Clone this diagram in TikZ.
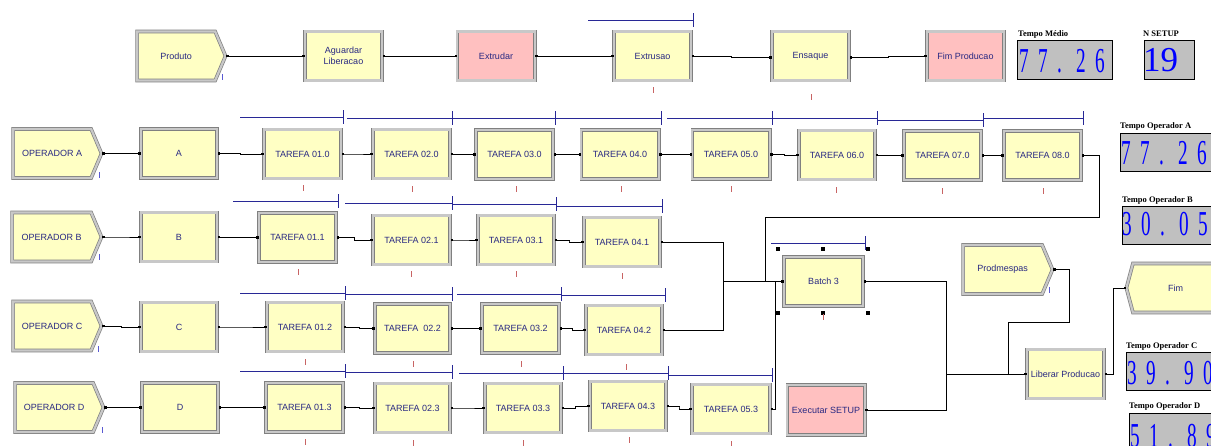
\documentclass[tikz,border=0pt]{standalone}
\usepackage{fontspec}
\setmainfont{Liberation Sans}
\newfontfamily\lserif{Liberation Serif}
\usetikzlibrary{shapes.symbols,arrows.meta,calc}
\definecolor{modyel}{RGB}{255,255,196}
\definecolor{modpink}{RGB}{255,192,192}
\definecolor{modedge}{RGB}{128,128,128}
\definecolor{modband}{RGB}{200,200,200}
\definecolor{modtext}{RGB}{40,40,130}
\definecolor{qblue}{RGB}{40,40,150}
\definecolor{animred}{RGB}{200,100,100}
\definecolor{animblue}{RGB}{90,90,210}
\definecolor{dispgray}{RGB}{192,192,192}
\newcommand{\qline}[3]{\draw[queue] (#1,#3) -- (#2,#3) (#2,#3-7) -- (#2,#3+7);}
\newcommand{\amark}[3][animred]{\draw[#1, line width=1pt] (#2,#3) -- (#2,#3+6);}
\newcommand{\lcdc}[1]{\makebox[19pt][l]{\scalebox{0.55}[1]{#1}}}
\tikzset{
 modbase/.style={draw=modedge, double=modband, double distance=2.2pt, line width=0.7pt,
   inner sep=1pt, font=\fontsize{9}{10.5}\selectfont, text=modtext, align=center},
 mod/.style={modbase, fill=modyel, minimum width=77.4pt, minimum height=49pt},
 pinkmod/.style={mod, fill=modpink},
 create/.style={modbase, fill=modyel, signal, signal to=east, signal pointer angle=134,
   minimum width=88.4pt, minimum height=49pt, anchor=west},
 dispose/.style={modbase, fill=modyel, signal, signal to=west, signal pointer angle=150,
   minimum width=92pt, minimum height=49pt, anchor=west},
 conn/.style={line width=0.8pt, black},
 tips/.style={{Square[length=2.4pt,width=2.4pt]}-{Square[length=2.4pt,width=2.4pt]}},
 tipstart/.style={{Square[length=2.4pt,width=2.4pt]}-},
 jog/.style={to path={-| ($(\tikztostart)!0.5!(\tikztotarget)$) |- (\tikztotarget) \tikztonodes}},
 queue/.style={qblue, line width=0.8pt},
 disp/.style={draw=black, line width=0.8pt, fill=dispgray, inner sep=0pt, anchor=north west},
 displabel/.style={font=\lserif\bfseries\fontsize{8.5}{9}\selectfont, anchor=base west, inner sep=0pt},
 dispval/.style={font=\lserif\fontsize{35}{35}\selectfont, text=blue, anchor=base west, inner sep=0pt},
 handle/.style={fill=black, minimum size=4pt, inner sep=0pt},
}
\begin{document}
\begin{tikzpicture}[x=1pt,y=-1pt]
\useasboundingbox (0,0) rectangle (1211,445);
\clip (0,0) rectangle (1211,445);
\fill[white] (0,0) rectangle (1211,445);

% ---------- top row ----------
\node[create] (prod) at (136.8,56) {Produto};
\node[mod] (agu) at (343.5,56) {Aguardar\\Liberacao};
\node[pinkmod] (extd) at (496,56) {Extrudar};
\node[mod] (extr) at (652.5,56) {Extrusao};
\node[mod] (ens) at (810.5,56) {Ensaque};
\node[pinkmod] (fimp) at (965.5,56) {Fim Producao};

% ---------- row A ----------
\node[create] (opa) at (12.8,153.5) {OPERADOR A};
\node[mod, minimum width=76.4pt] (na) at (179,153.5) {A};
\node[mod] (t010) at (302.5,154) {TAREFA 01.0};
\node[mod] (t020) at (411.5,154) {TAREFA 02.0};
\node[mod] (t030) at (514.5,154.5) {TAREFA 03.0};
\node[mod] (t040) at (620,154.5) {TAREFA 04.0};
\node[mod] (t050) at (731,154.5) {TAREFA 05.0};
\node[mod, minimum width=76.4pt] (t060) at (837,155) {TAREFA 06.0};
\node[mod] (t070) at (942.5,155.5) {TAREFA 07.0};
\node[mod] (t080) at (1042.5,155.5) {TAREFA 08.0};

% ---------- row B ----------
\node[create, minimum width=89.4pt] (opb) at (11.8,237) {OPERADOR B};
\node[mod, minimum width=76.4pt] (nb) at (179,237) {B};
\node[mod] (t011) at (297.5,237.5) {TAREFA 01.1};
\node[mod] (t021) at (411.5,240) {TAREFA 02.1};
\node[mod, minimum width=76.4pt] (t031) at (516,240) {TAREFA 03.1};
\node[mod, minimum width=76.4pt] (t041) at (622,242) {TAREFA 04.1};

% ---------- row C ----------
\node[create] (opc) at (12.8,326) {OPERADOR C};
\node[mod, minimum width=76.4pt] (nc) at (179,327) {C};
\node[mod, minimum width=76.4pt] (t012) at (305,327) {TAREFA 01.2};
\node[mod, minimum width=75.4pt] (t022) at (412.5,328.5) {TAREFA\ \ 02.2};
\node[mod] (t032) at (520.5,328.5) {TAREFA 03.2};
\node[mod, minimum width=76.4pt] (t042) at (624,330) {TAREFA 04.2};

% ---------- row D ----------
\node[create] (opd) at (14.8,407.5) {OPERADOR D};
\node[mod, minimum width=76.4pt] (nd) at (180,407.5) {D};
\node[mod] (t013) at (304.5,407.5) {TAREFA 01.3};
\node[mod, minimum width=75.4pt] (t023) at (412.5,408) {TAREFA 02.3};
\node[mod, minimum width=76.4pt] (t033) at (523,408) {TAREFA 03.3};
\node[mod, minimum width=76.4pt] (t043) at (628,406) {TAREFA 04.3};
\node[mod, minimum width=78.4pt] (t053) at (731,409) {TAREFA 05.3};
\node[pinkmod, minimum height=50.4pt] (exs) at (826,410) {Executar SETUP};

% ---------- right part ----------
\node[mod, minimum width=79.4pt] (batch) at (823.5,281.5) {Batch 3};
\node[create, minimum width=89.4pt] (prodm) at (962.8,269.5) {Prodmespas};
\node[mod] (lib) at (1065.5,374) {Liberar Producao};
\node[dispose] (fim) at (1126,288) {Fim};

% ---------- connectors ----------
\draw[conn,tips] (prod.east) -- (agu.west);
\draw[conn,tips] (agu.east) -- (extd.west);
\draw[conn,tips] (extd.east) -- (extr.west);
\draw[conn,tips] (extr.east) -- (731,56) -- (731,57.5) -- (ens.west |- 0,57.5);
\draw[conn,tips] (ens.east) ++(0,1.5) -- (888,57.5) -- (888,56) -- (fimp.west);

\draw[conn,tips] (opa.east) to[jog] (na.west);
\draw[conn,tips] (na.east) to[jog] (t010.west);
\draw[conn,tips] (t010.east) to[jog] (t020.west);
\draw[conn,tips] (t020.east) to[jog] (t030.west);
\draw[conn,tips] (t030.east) to[jog] (t040.west);
\draw[conn,tips] (t040.east) to[jog] (t050.west);
\draw[conn,tips] (t050.east) to[jog] (t060.west);
\draw[conn,tips] (t060.east) to[jog] (t070.west);
\draw[conn,tips] (t070.east) to[jog] (t080.west);
\draw[conn,tips] (t080.east) -- ++(18,0) |- (765,217) |- (batch.west);

\draw[conn,tips] (opb.east) to[jog] (nb.west);
\draw[conn,tips] (nb.east) to[jog] (t011.west);
\draw[conn,tips] (t011.east) to[jog] (t021.west);
\draw[conn,tips] (t021.east) to[jog] (t031.west);
\draw[conn,tips] (t031.east) to[jog] (t041.west);
\draw[conn,tips] (t041.east) -| (723,281.5) -- (batch.west);

\draw[conn,tips] (opc.east) to[jog] (nc.west);
\draw[conn,tips] (nc.east) to[jog] (t012.west);
\draw[conn,tips] (t012.east) to[jog] (t022.west);
\draw[conn,tips] (t022.east) to[jog] (t032.west);
\draw[conn,tips] (t032.east) to[jog] (t042.west);
\draw[conn,tipstart] (t042.east) -| (723,281.5);

\draw[conn,tips] (opd.east) to[jog] (nd.west);
\draw[conn,tips] (nd.east) to[jog] (t013.west);
\draw[conn,tips] (t013.east) to[jog] (t023.west);
\draw[conn,tips] (t023.east) to[jog] (t033.west);
\draw[conn,tips] (t033.east) to[jog] (t043.west);
\draw[conn,tips] (t043.east) to[jog] (t053.west);
\draw[conn,tips] (t053.east) -- ++(5,0) |- (batch.west);

\draw[conn,tips] (batch.east) -| (946,374) -- (lib.west);
\draw[conn,tipstart] (exs.east) -| (946,374);
\draw[conn,tipstart] (prodm.east) -- ++(16,0) |- (1008,322) -- (1008,374);
\draw[conn,tips] (lib.east) -- ++(9,0) |- (fim.west);

% ---------- queue lines ----------
\qline{588}{693}{20}
\qline{240}{343}{117}
\qline{347}{452}{118}
\qline{452}{555}{118}
\qline{555}{661}{118}
\qline{667}{772}{118}
\qline{772}{877}{118}
\qline{877}{983}{120}
\qline{983}{1083}{118}
\qline{233}{338}{201}
\qline{345}{452}{203}
\qline{452}{556}{204}
\qline{556}{662}{206}
\qline{240}{345}{293}
\qline{345}{452}{294}
\qline{457}{561}{294}
\qline{561}{665}{295}
\qline{240}{345}{371}
\qline{345}{452}{372}
\qline{459}{563}{373}
\qline{563}{668}{373}
\qline{668}{772}{375}
\qline{771}{865}{243}

% ---------- batch selection handles ----------
\node[handle] (h1) at (778,249) {};
\node[handle] (h2) at (823,249) {};
\node[handle] (h3) at (868,249) {};
\node[handle] (h4) at (778,313) {};
\node[handle] (h5) at (823,313) {};
\node[handle] (h6) at (868,313) {};

% ---------- animation marks ----------
\amark{653}{87}
\amark{811}{94}
\amark{303}{185}\amark{412}{186}\amark{516}{186}\amark{621}{186}\amark{731}{186}
\amark{836}{187}\amark{942}{188}\amark{1043}{188}
\amark{298}{269}\amark{411}{271}\amark{516}{271}\amark{622}{273}
\amark{305}{359}\amark{413}{361}\amark{521}{361}\amark{626}{364}
\amark{305}{439}\amark{413}{440}\amark{523}{440}\amark{629}{437}\amark{731}{441}
\amark{823}{314}
\amark[animblue]{222}{74}
\amark[animblue]{99}{172}
\amark[animblue]{99}{254}
\amark[animblue]{98}{346}
\amark[animblue]{102}{427}
\amark[animblue]{1049}{287}

% ---------- displays ----------
\node[displabel] (ltm) at (1018,36) {Tempo Médio};
\node[disp, minimum width=95pt, minimum height=39pt] (tm) at (1017,40) {};
\node[dispval] (vtm) at (1019,72) {\lcdc{7}\lcdc{7}\lcdc{.}\lcdc{2}\lcdc{6}};

\node[displabel] (lns) at (1143,36) {N SETUP};
\node[disp, minimum width=50pt, minimum height=39pt] (ns) at (1144,40) {};
\node[dispval] (vns) at (1143,71) {19};

\node[displabel] (loa) at (1120,128) {Tempo Operador A};
\node[disp, minimum width=110pt, minimum height=38pt] (toa) at (1120,133) {};
\node[dispval] (voa) at (1121,164) {\lcdc{7}\lcdc{7}\lcdc{.}\lcdc{2}\lcdc{6}};

\node[displabel] (lob) at (1122,202) {Tempo Operador B};
\node[disp, minimum width=110pt, minimum height=38pt] (tob) at (1122,206) {};
\node[dispval] (vob) at (1122,235) {\lcdc{3}\lcdc{0}\lcdc{.}\lcdc{0}\lcdc{5}};

\node[displabel] (loc) at (1126,348) {Tempo Operador C};
\node[disp, minimum width=110pt, minimum height=38pt] (toc) at (1126,352) {};
\node[dispval] (voc) at (1127,384) {\lcdc{3}\lcdc{9}\lcdc{.}\lcdc{9}\lcdc{0}};

\node[displabel] (lod) at (1129,408) {Tempo Operador D};
\node[disp, minimum width=110pt, minimum height=40pt] (tod) at (1129,413) {};
\node[dispval] (vod) at (1130,447) {\lcdc{5}\lcdc{1}\lcdc{.}\lcdc{8}\lcdc{9}};
\end{tikzpicture}
\end{document}
